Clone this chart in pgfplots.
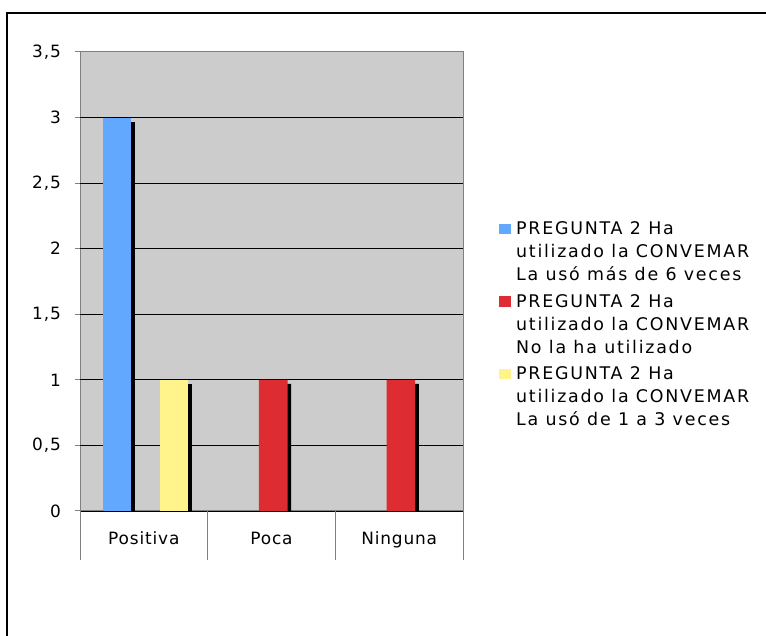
\documentclass[border=0pt]{standalone}
\usepackage{pgfplots}
\pgfplotsset{compat=1.18}
\usepackage{fontspec}
\setmainfont{DejaVu Sans}
\newfontfamily\legfont[LetterSpace=10]{DejaVu Sans}
\newfontfamily\tickfont[LetterSpace=5]{DejaVu Sans}
\definecolor{cblue}{RGB}{99,168,255}
\definecolor{cred}{RGB}{221,45,50}
\definecolor{cyel}{RGB}{255,243,140}
\definecolor{bg}{RGB}{204,204,204}
\definecolor{axgray}{RGB}{128,128,128}
\begin{document}
\begin{tikzpicture}
\useasboundingbox (0,0) rectangle (766bp,636bp);
\draw[line width=1.5bp] (7bp,0bp) -- (7bp,623bp) -- (766bp,623bp);
\begin{axis}[
  at={(80bp,125bp)}, anchor=south west,
  scale only axis, width=383bp, height=459bp,
  xmin=-0.5, xmax=2.5, ymin=0, ymax=3.5,
  ybar, bar width=28.7bp,
  axis line style={draw=none},
  axis background/.style={fill=bg, draw=axgray, line width=1bp},
  ytick={0,0.5,...,3}, extra y ticks={3.5},
  extra y tick style={grid=none},
  ymajorgrids, grid style={black, line width=0.8bp},
  tick pos=left, tick align=outside, major tick length=5bp,
  ytick style={axgray, line width=1bp},
  xtick={0,1,2}, xticklabels={Positiva,Poca,Ninguna},
  xtick style={draw=none},
  extra x ticks={-0.5,0.5,1.5,2.5}, extra x tick labels={},
  extra x tick style={major tick length=49bp, xtick style={draw=axgray, line width=1bp}, grid=none},
  /pgf/number format/.cd, use comma, assume math mode=true, /pgfplots/.cd,
  ticklabel style={font=\tickfont\fontsize{17}{20}\selectfont, inner sep=0pt},
  yticklabel style={xshift=-14bp},
  xticklabel style={yshift=-16bp, text height=12.5bp, text depth=0bp},
  legend style={draw=none, fill=none, at={(1.094,0.637)}, anchor=north west,
    inner sep=0pt, row sep=9bp, column sep=5bp,
    nodes={inner sep=0pt, align=left},
    font=\legfont\fontsize{17.5}{23}\selectfont},
  legend cell align=left,
  legend image code/.code={\fill[#1] (0bp,16bp) rectangle (12bp,26.5bp);},
]
% shadows
\addplot[fill=black, draw=none, bar shift=-23.1bp, yshift=-4bp, forget plot] coordinates {(0,3)};
\addplot[fill=black, draw=none, bar shift=5.3bp, yshift=-4bp, forget plot] coordinates {(1,1) (2,1)};
\addplot[fill=black, draw=none, bar shift=33.9bp, yshift=-4bp, forget plot] coordinates {(0,1)};
% bars
\addplot[fill=cblue, draw=none, bar shift=-26.7bp] coordinates {(0,3)};
\addlegendentry{\strut PREGUNTA 2 Ha\\utilizado la CONVEMAR\\La usó más de 6 veces\strut}
\addplot[fill=cred, draw=none, bar shift=1.7bp] coordinates {(1,1) (2,1)};
\addlegendentry{\strut PREGUNTA 2 Ha\\utilizado la CONVEMAR\\No la ha utilizado\strut}
\addplot[fill=cyel, draw=none, bar shift=30.3bp] coordinates {(0,1)};
\addlegendentry{\strut PREGUNTA 2 Ha\\utilizado la CONVEMAR\\La usó de 1 a 3 veces\strut}
\end{axis}
\end{tikzpicture}
\end{document}
